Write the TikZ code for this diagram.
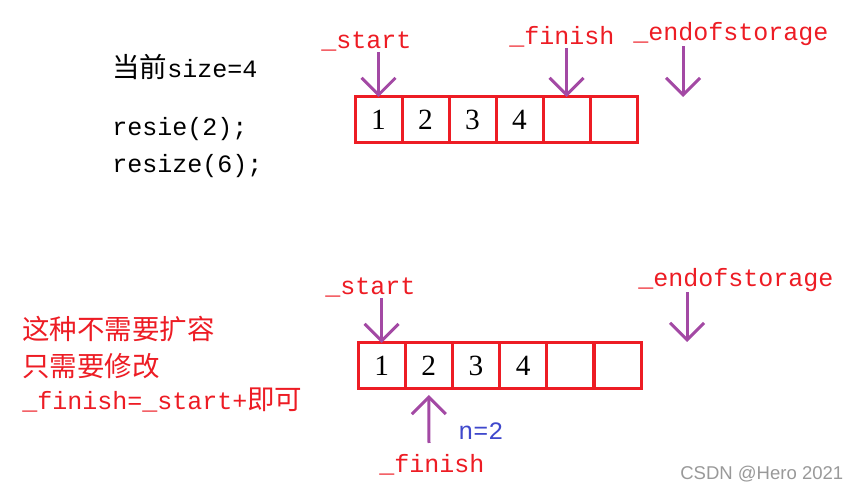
\documentclass[tikz,border=0pt]{standalone}
\usepackage{fontspec}
\setmainfont{Liberation Mono}
\newfontfamily\cjk{Noto Sans CJK SC}[Scale=1.1]
\newfontfamily\numfont{Liberation Serif}
\newfontfamily\wmfont{Liberation Sans}
\usetikzlibrary{arrows.meta,positioning}
\definecolor{paintred}{HTML}{ED1C24}
\definecolor{paintpurple}{HTML}{A349A4}
\definecolor{paintblue}{HTML}{3F48CC}

\begin{document}
\begin{tikzpicture}[
            x=0.75pt, y=-0.75pt,
            cell/.style={draw=paintred,line width=2.25pt,rectangle,minimum width=35.25pt,minimum height=34.5pt,
                outer sep=0pt,inner sep=0pt,font=\numfont\fontsize{22}{26}\selectfont},
            txt/.style={anchor=base west,inner sep=0pt,font=\fontsize{18.75}{22}\selectfont},
            lbl/.style={txt,text=paintred},
            ptr/.style={draw=paintpurple,line width=2.25pt,-{Straight Barb[length=12.75pt,width=25.5pt]}},
        ]

        \useasboundingbox (0,0) rectangle (861,491);

        % top: size 4
        \node[txt] (size) at (112,78) {{\cjk 当前}size=4};
        \node[txt] (call1) at (112,136) {resie(2);};
        \node[txt] (call2) at (112,173) {resize(6);};

        \foreach \i/\v in {1/1,2/2,3/3,4/4,5/,6/}
            \node[cell] (t\i) at ({355+47*\i-23.5},120) {\v};

        \node[lbl] (tstart) at (321,49) {\_start};
        \node[lbl] (tfinish) at (509,45) {\_finish};
        \node[lbl] (tend) at (633,41) {\_endofstorage};
        \coordinate (tendtip) at (683,97);

        \draw[ptr] (tstart.south -| t1.north) -- (t1.north);
        \draw[ptr] (tfinish.south -| t5.north) -- (t5.north);
        \draw[ptr] (tend.south -| tendtip) -- (tendtip);

        % bottom: resize(2)
        \node[lbl] (note1) at (22,340) {\cjk 这种不需要扩容};
        \node[lbl] (note2) at (22,377) {\cjk 只需要修改};
        \node[lbl] (note3) at (22,410) {\_finish=\_start+{\cjk 即可}};

        \foreach \i/\v in {1/1,2/2,3/3,4/4,5/,6/}
            \node[cell] (b\i) at ({358+47.2*\i-23.6},366) {\v};

        \node[lbl] (bstart) at (325,295) {\_start};
        \node[lbl] (bend) at (638,287) {\_endofstorage};
        \node[lbl] (bfinish) at (379,473) {\_finish};
        \node[txt,text=paintblue] (nval) at (458,440) {n=2};
        \coordinate (bendtip) at (687,342);
        \coordinate (bfintail) at (429,443);

        \draw[ptr] (bstart.south -| b1.north) -- (b1.north);
        \draw[ptr] (bend.south -| bendtip) -- (bendtip);
        \draw[ptr] (bfintail) -- ([yshift=-4.5pt]b2.south);

        \node[anchor=base west,inner sep=0pt,text=black!40,font=\wmfont\fontsize{13.9}{16}\selectfont] (mark) at (680,480) {CSDN @Hero 2021};

\end{tikzpicture}
\end{document}
